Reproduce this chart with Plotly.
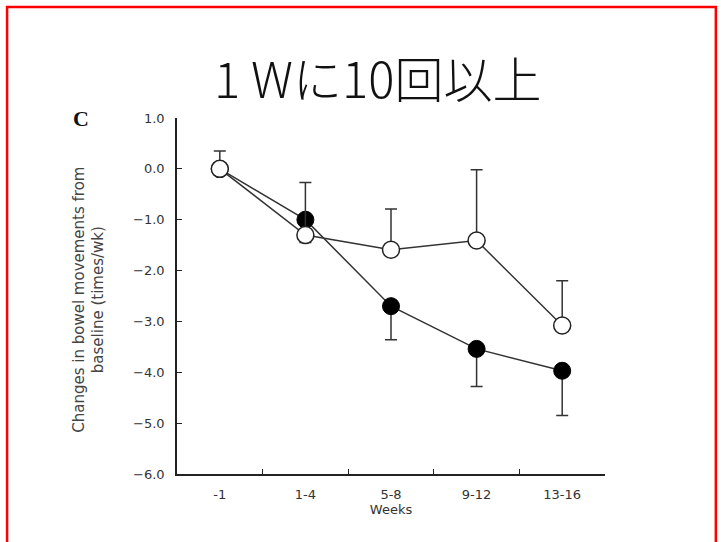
import plotly.graph_objects as go

weeks = ["-1", "1-4", "5-8", "9-12", "13-16"]
filled_mean = [0.0, -1.0, -2.7, -3.54, -3.97]
filled_err_down = [0.0, 0.45, 0.66, 0.74, 0.88]
open_mean = [0.0, -1.3, -1.59, -1.41, -3.08]
open_err_up = [0.35, 1.03, 0.8, 1.39, 0.88]
zeros = [0, 0, 0, 0, 0]

line_col = "#333333"
fig = go.Figure()
fig.add_trace(go.Scatter(
    x=weeks, y=filled_mean, mode="lines+markers",
    line=dict(color=line_col, width=1.5),
    marker=dict(symbol="circle", size=17, color="black", line=dict(color="black", width=1)),
    error_y=dict(type="data", symmetric=False, array=zeros, arrayminus=filled_err_down,
                 color=line_col, thickness=1.5, width=6),
    showlegend=False))
fig.add_trace(go.Scatter(
    x=weeks, y=open_mean, mode="lines+markers",
    line=dict(color=line_col, width=1.5),
    marker=dict(symbol="circle", size=17, color="white", line=dict(color="#222222", width=1.5)),
    error_y=dict(type="data", symmetric=False, array=open_err_up, arrayminus=zeros,
                 color=line_col, thickness=1.5, width=6),
    showlegend=False))

tick_font = dict(family="DejaVu Sans", size=13, color="#333333")
fig.update_layout(
    width=721, height=542,
    margin=dict(l=177, r=116, t=118, b=68),
    paper_bgcolor="white", plot_bgcolor="white",
    title=dict(text="1 Wに10回以上", x=0.524, xanchor="center", y=1 - 81 / 542, yanchor="middle",
               yref="container",
               font=dict(family="Noto Sans CJK JP", size=49, color="#111111", weight=300)),
    xaxis=dict(type="category", range=[-0.5, 4.5], tickson="boundaries", ticks="inside",
               ticklen=5, tickcolor="#222", showline=True, linecolor="#222", linewidth=1.5,
               showgrid=False, zeroline=False, tickfont=tick_font, ticklabelstandoff=8,
               title=dict(text="Weeks", font=dict(family="DejaVu Sans", size=13, color="#333"), standoff=2)),
    yaxis=dict(range=[-6, 1], tickmode="linear", tick0=-6, dtick=1, tickformat=".1f",
               ticks="inside", ticklen=5, tickcolor="#222", showline=True, linecolor="#222",
               linewidth=1.5, showgrid=False, zeroline=False, tickfont=tick_font, ticklabelstandoff=8),
    annotations=[
        dict(text="Changes in bowel movements from<br>baseline (times/wk)", textangle=-90,
             xref="paper", yref="paper", x=-0.206, y=0.489, xanchor="center", yanchor="middle",
             showarrow=False, font=dict(family="DejaVu Sans", size=15, color="#444")),
        dict(text="<b>C</b>", xref="paper", yref="paper", x=-0.225, y=1.0, xanchor="center",
             yanchor="middle", showarrow=False,
             font=dict(family="Liberation Serif", size=22, color="#111")),
    ],
    shapes=[dict(type="rect", xref="paper", yref="paper", x0=-0.397, x1=1.259, y0=-0.25, y1=1.312,
                 line=dict(color="red", width=2.5), fillcolor="rgba(0,0,0,0)")],
)

fig.write_html("out.html")
